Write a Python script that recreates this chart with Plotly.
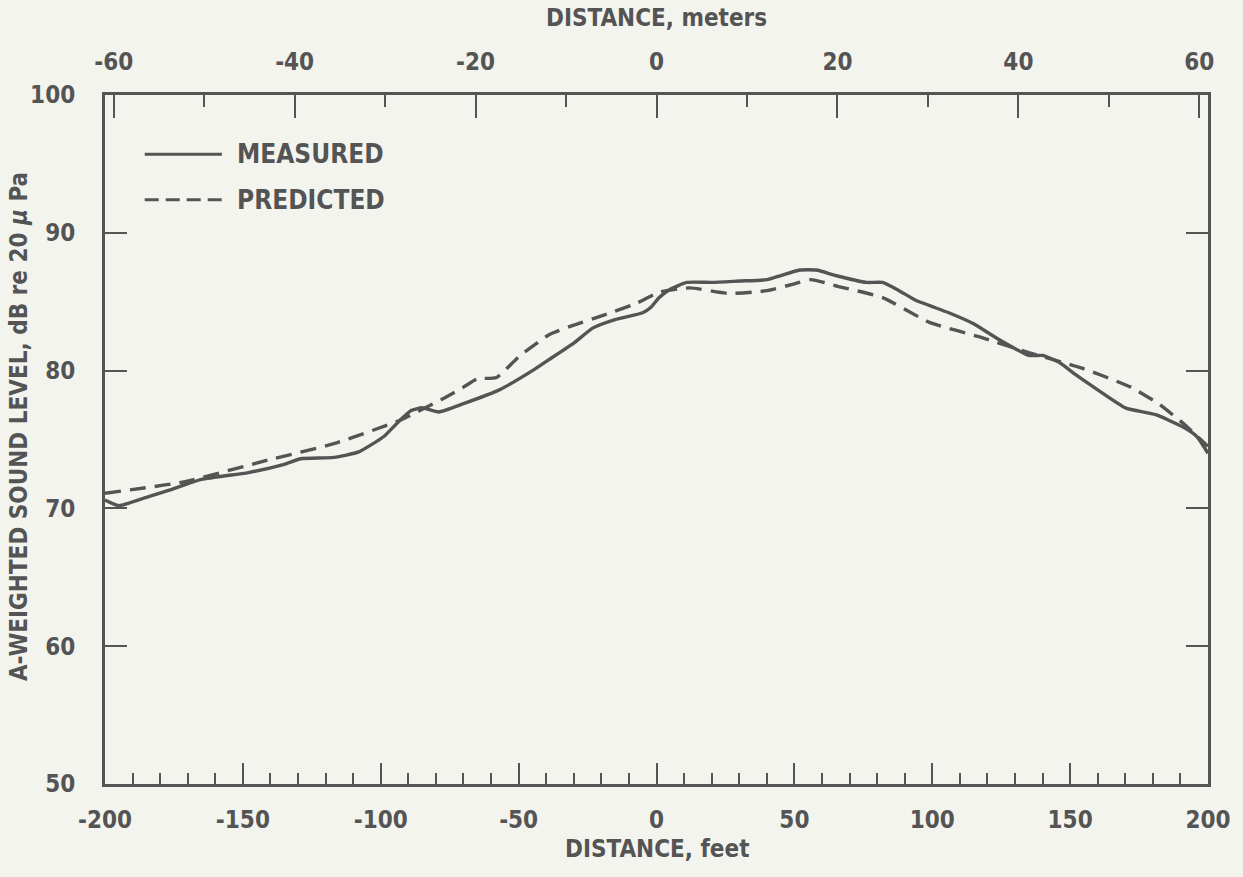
import plotly.graph_objects as go

# Distance (feet) and A-weighted sound level (dB)
measured_ft = [-200, -195, -185, -177, -165, -148, -135, -129, -117, -108, -99, -94, -89, -85, -79,
               -70, -57, -45, -39, -30, -23, -15, -5, -2, 1, 5, 11, 20, 30, 40, 45, 52, 58, 65,
               76, 82, 88, 94, 106, 115, 123, 135, 140, 146, 152, 160, 170, 181, 191, 196, 200]
measured_db = [70.6, 70.2, 70.8, 71.3, 72.1, 72.6, 73.2, 73.6, 73.7, 74.1, 75.2, 76.2, 77.1, 77.3, 77.0,
               77.6, 78.6, 80.0, 80.8, 82.0, 83.1, 83.7, 84.2, 84.6, 85.3, 85.9, 86.4, 86.4, 86.5, 86.6,
               86.9, 87.3, 87.3, 86.9, 86.4, 86.4, 85.8, 85.1, 84.2, 83.4, 82.4, 81.1, 81.1, 80.6,
               79.7, 78.6, 77.3, 76.8, 75.9, 75.2, 74.0]

predicted_ft = [-200, -172, -141, -117, -93, -78, -70, -65, -58, -50, -39, -30, -21, -7, 1, 12, 26, 40,
                50, 56, 66, 82, 99, 118, 135, 154, 172, 182, 192, 200]
predicted_db = [71.1, 71.9, 73.5, 74.7, 76.4, 77.9, 78.8, 79.4, 79.5, 81.0, 82.6, 83.3, 83.9, 84.9, 85.7,
                86.0, 85.6, 85.8, 86.3, 86.6, 86.1, 85.3, 83.5, 82.4, 81.3, 80.2, 78.8, 77.6, 76.0, 74.5]

FT_PER_M = 3.2808
x_range_ft = [-200, 200]
y_range = [50, 100]
x_ticks_ft = [-200, -150, -100, -50, 0, 50, 100, 150, 200]
x_ticks_m = [-60, -40, -20, 0, 20, 40, 60]
y_ticks = [50, 60, 70, 80, 90, 100]

INK = "#545454"
BG = "#f4f4ef"
TICKFONT = dict(family="DejaVu Sans Condensed", size=24, color=INK, weight="bold")
TITLEFONT = dict(family="DejaVu Sans Condensed", size=24, color=INK, weight="bold")


def labels(vals):
    return [str(v) for v in vals]  # plain hyphen-minus, as in the original


fig = go.Figure()
fig.add_trace(go.Scatter(x=measured_ft, y=measured_db, mode="lines", name="MEASURED",
                         line=dict(color=INK, width=3.4, shape="spline", smoothing=0.5),
                         showlegend=False))
fig.add_trace(go.Scatter(x=predicted_ft, y=predicted_db, mode="lines", name="PREDICTED",
                         line=dict(color=INK, width=3.4, dash="16px,9px", shape="spline", smoothing=0.5),
                         showlegend=False))
# invisible trace for top (meters) axis
fig.add_trace(go.Scatter(x=[x_range_ft[0] / FT_PER_M, x_range_ft[1] / FT_PER_M], y=y_range,
                         xaxis="x2", mode="none", showlegend=False, hoverinfo="skip"))

fig.update_layout(
    width=1243, height=877,
    margin=dict(l=105, r=32, t=95, b=93),
    paper_bgcolor=BG, plot_bgcolor=BG,
    xaxis=dict(range=x_range_ft, tickvals=x_ticks_ft, ticktext=labels(x_ticks_ft), ticks="inside",
               ticklen=21, tickwidth=2.2, tickcolor=INK, showline=True, linecolor=INK, linewidth=3,
               showgrid=False, zeroline=False, tickfont=TICKFONT, ticklabelstandoff=12,
               minor=dict(dtick=10, ticks="inside", ticklen=11, tickwidth=2, tickcolor=INK)),
    xaxis2=dict(range=[x_range_ft[0] / FT_PER_M, x_range_ft[1] / FT_PER_M], overlaying="x",
                side="top", tickvals=x_ticks_m, ticktext=labels(x_ticks_m), ticks="inside",
                ticklen=23, tickwidth=2.2, tickcolor=INK, showline=True, linecolor=INK, linewidth=3,
                showgrid=False, zeroline=False, tickfont=TICKFONT, ticklabelstandoff=12,
                minor=dict(dtick=10, ticks="inside", ticklen=12, tickwidth=2, tickcolor=INK)),
    yaxis=dict(range=y_range, tickvals=y_ticks, ticktext=labels(y_ticks), ticks="inside",
               ticklen=22, tickwidth=2.2, tickcolor=INK, showline=True, linecolor=INK, linewidth=3,
               mirror="ticks", showgrid=False, zeroline=False, tickfont=TICKFONT,
               ticklabelstandoff=22),
)

# Axis titles
fig.add_annotation(text="DISTANCE, meters", xref="paper", yref="paper", x=0.5, y=1.0,
                   yshift=77, showarrow=False, font=TITLEFONT, xanchor="center", yanchor="middle")
fig.add_annotation(text="DISTANCE, feet", xref="paper", yref="paper", x=0.5, y=0.0,
                   yshift=-65, showarrow=False, font=TITLEFONT, xanchor="center", yanchor="middle")
fig.add_annotation(text="A-WEIGHTED SOUND LEVEL, dB re 20 <i>μ</i> Pa", xref="paper", yref="paper",
                   x=0.0, xshift=-86, y=0.518, textangle=-90, showarrow=False, font=TITLEFONT,
                   xanchor="center", yanchor="middle")

# Legend drawn as key lines + labels
legend_items = [("MEASURED", "solid", 0.914), ("PREDICTED", "14px,7px", 0.848)]
for label, dash, ly in legend_items:
    fig.add_shape(type="line", xref="paper", yref="paper", x0=0.036, x1=0.106, y0=ly, y1=ly,
                  line=dict(color=INK, width=3.2, dash=dash))
    fig.add_annotation(text=label, xref="paper", yref="paper", x=0.118, y=ly, showarrow=False,
                       xanchor="left", yanchor="middle",
                       font=dict(family="DejaVu Sans Condensed", size=26, color=INK, weight="bold"))

fig.write_html("out.html")
